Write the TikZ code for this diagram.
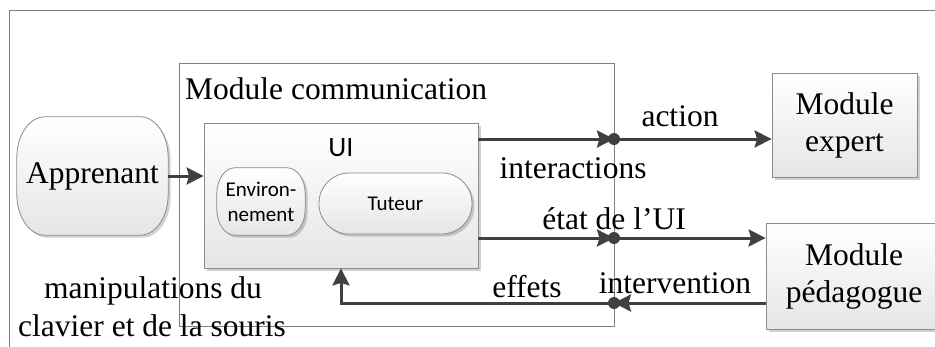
\documentclass[tikz,border=0pt]{standalone}
\usepackage{fontspec}
\setmainfont{Liberation Serif}
\newfontfamily\uifont{Carlito}
\usetikzlibrary{arrows.meta,shadows,calc}

\tikzset{
  frameline/.style={draw=black!50, line width=0.9pt},
  softbox/.style={draw=black!45, line width=0.8pt, top color=white, bottom color=black!10,
    drop shadow={shadow xshift=2.5pt, shadow yshift=-2.5pt, opacity=0.18, fill=black}},
  serif/.style={font=\fontsize{31.5}{37}\selectfont, text=black},
  smallsans/.style={font=\uifont\fontsize{21}{25}\selectfont, text=black},
  flow/.style={draw=black!75, line width=3pt},
  tip/.style={-{Stealth[length=17pt,width=17pt,inset=2.5pt]}},
  junction/.style={circle, fill=black!75, inner sep=0pt, minimum size=12pt},
}

% outline with elliptical corners around a named node: #1 node, #2 x radius, #3 y radius
\newcommand{\softoval}[3]{%
  \path[softbox]
    ([xshift=#2]#1.north west) -- ([xshift=-#2]#1.north east)
    arc[start angle=90, end angle=0, x radius=#2, y radius=#3]
    -- ([yshift=#3]#1.south east)
    arc[start angle=0, end angle=-90, x radius=#2, y radius=#3]
    -- ([xshift=#2]#1.south west)
    arc[start angle=270, end angle=180, x radius=#2, y radius=#3]
    -- ([yshift=-#3]#1.north west)
    arc[start angle=180, end angle=90, x radius=#2, y radius=#3]
    -- cycle;}

\begin{document}
\begin{tikzpicture}[x=1pt,y=-1pt]
  \useasboundingbox (0,0) rectangle (935,346);
  \clip (0,0) rectangle (935,346);
  \fill[white] (0,0) rectangle (935,346);

  % outer frame (only its top and left edges fall inside the page)
  \draw[frameline] (9,360) -- (9,10) -- (950,10);

  % communication module frame
  \node[frameline, rectangle, minimum width=435pt, minimum height=263pt, inner sep=0pt]
    (comm) at (396.5,194.5) {};
  \node[serif, anchor=base west, inner sep=0pt] (commtitle) at (185,99) {Module communication};

  % learner
  \node[rectangle, minimum width=151pt, minimum height=118pt, inner sep=0pt]
    (apprenant) at (92.5,176) {};
  \softoval{apprenant}{28pt}{41pt}
  \node[serif, inner sep=0pt] (apprenanttext) at (apprenant.center) {Apprenant};

  % user interface
  \node[softbox, rectangle, minimum width=274pt, minimum height=145pt] (ui) at (341,195.5) {};
  \node[font=\uifont\fontsize{28}{32}\selectfont, anchor=base, inner sep=0pt] (uititle) at (341,156) {UI};
  \node[rectangle, minimum width=88pt, minimum height=67pt, inner sep=0pt] (env) at (261,201.5) {};
  \softoval{env}{18pt}{26pt}
  \node[smallsans, align=center, inner sep=0pt] (envtext) at (env.center) {Environ-\\nement};
  \node[softbox, rounded corners=30pt, minimum width=153pt, minimum height=61pt, smallsans]
    (tut) at (395.5,203.5) {Tuteur};

  % other modules
  \node[softbox, rectangle, minimum width=145pt, minimum height=104pt, serif, align=center]
    (expert) at (844.5,125) {Module\\expert};
  \node[softbox, rectangle, minimum width=176pt, minimum height=106pt, serif, align=center]
    (peda) at (854,276) {Module\\pédagogue};

  % junctions on the module border
  \coordinate (j1) at (614,139);
  \coordinate (j2) at (614,238);
  \coordinate (j3) at (614,303);

  % connectors
  \draw[flow, tip] (apprenant.east) -- (apprenant.east -| ui.west);
  \draw[flow, tip] (ui.east |- j1) -- (j1);
  \draw[flow, tip] (j1) -- (j1 -| expert.west);
  \draw[flow, tip] (ui.east |- j2) -- (j2);
  \draw[flow, tip] (j2) -- (j2 -| peda.west);
  \draw[flow, tip] (peda.west |- j3) -- (j3);
  \draw[flow, tip] (j3) -| (ui.south);

  \node[junction] (d1) at (j1) {};
  \node[junction] (d2) at (j2) {};
  \node[junction] (d3) at (j3) {};

  % labels
  \node[serif, anchor=base, inner sep=0pt] (laction) at (680,126) {action};
  \node[serif, anchor=base, inner sep=0pt] (linter) at (573,178) {interactions};
  \node[serif, anchor=base, inner sep=0pt] (letat) at (614,229) {état de l’UI};
  \node[serif, anchor=base, inner sep=0pt] (linterv) at (675,293) {intervention};
  \node[serif, anchor=base, inner sep=0pt] (leffets) at (527,297) {effets};
  \node[serif, anchor=base, inner sep=0pt] (lmanip1) at (153,298) {manipulations du};
  \node[serif, anchor=base, inner sep=0pt] (lmanip2) at (152,336) {clavier et de la souris};
\end{tikzpicture}
\end{document}
